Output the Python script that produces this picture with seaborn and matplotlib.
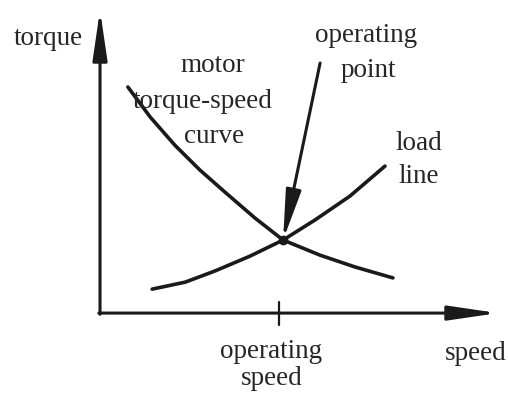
import matplotlib
matplotlib.use("Agg")
import matplotlib.pyplot as plt
import seaborn as sns
import pandas as pd

# Motor torque-speed curve (normalised speed, normalised torque)
motor_speed = [0.070, 0.126, 0.188, 0.251, 0.314, 0.389, 0.460, 0.553, 0.641, 0.736]
motor_torque = [0.746, 0.647, 0.554, 0.472, 0.399, 0.314, 0.241, 0.191, 0.152, 0.116]

# Load line
load_speed = [0.131, 0.214, 0.289, 0.377, 0.460, 0.540, 0.628, 0.716]
load_torque = [0.079, 0.102, 0.139, 0.188, 0.241, 0.307, 0.386, 0.485]

# Operating point (intersection) and where its pointer starts
op_speed, op_torque = 0.460, 0.241
op_label_speed, op_label_torque = 0.553, 0.825

df = pd.concat([
    pd.DataFrame({"speed": motor_speed, "torque": motor_torque, "curve": "motor"}),
    pd.DataFrame({"speed": load_speed, "torque": load_torque, "curve": "load"}),
])

sns.set_theme(style="white")
plt.rcParams["font.family"] = ["Liberation Serif", "DejaVu Serif"]

fig = plt.figure(figsize=(5.08, 3.94), dpi=100)
ax = fig.add_axes([0, 0, 1, 1])
ink = "#1a1a1a"
txt = "#262626"

sns.lineplot(data=df, x="speed", y="torque", units="curve", estimator=None,
             sort=False, color=ink, linewidth=2.6, ax=ax, legend=False)

ax.plot([op_speed], [op_torque], "o", color=ink, markersize=6)

ax.set_xlim(-0.2513, 1.0251)
ax.set_ylim(-0.267, 1.033)
ax.set_axis_off()

arrow = dict(arrowstyle="-|>,head_length=1.5,head_width=0.22", color=ink,
             lw=2.2, mutation_scale=20, shrinkA=0, shrinkB=0)

# Axes with arrowheads
ax.annotate("", xy=(0, 1.0), xytext=(0, -0.004), arrowprops=arrow)
ax.annotate("", xy=(1.0, 0), xytext=(-0.003, 0), arrowprops=arrow)

# Tick at the operating speed
ax.plot([op_speed - 0.01, op_speed - 0.01], [0.035, -0.04], color=ink, lw=1.6)

# Pointer to the operating point
ax.annotate("", xy=(op_speed, op_torque), xytext=(op_label_speed, op_label_torque),
            arrowprops=dict(arrowstyle="-|>,head_length=1.5,head_width=0.23",
                            color=ink, lw=2.2, mutation_scale=20,
                            shrinkA=0, shrinkB=0))

fs = 19.5
labels = [
    ("torque", -0.131, 0.884),
    ("motor", 0.284, 0.795),
    ("torque-speed", 0.259, 0.677),
    ("curve", 0.286, 0.561),
    ("operating", 0.668, 0.894),
    ("point", 0.673, 0.779),
    ("load", 0.802, 0.538),
    ("line", 0.802, 0.429),
    ("operating", 0.430, -0.149),
    ("speed", 0.432, -0.238),
    ("speed", 0.945, -0.155),
]
for s, x, y in labels:
    ax.text(x, y, s, ha="center", va="baseline", fontsize=fs, color=txt)

fig.savefig("out.png", dpi=100, facecolor="white")
